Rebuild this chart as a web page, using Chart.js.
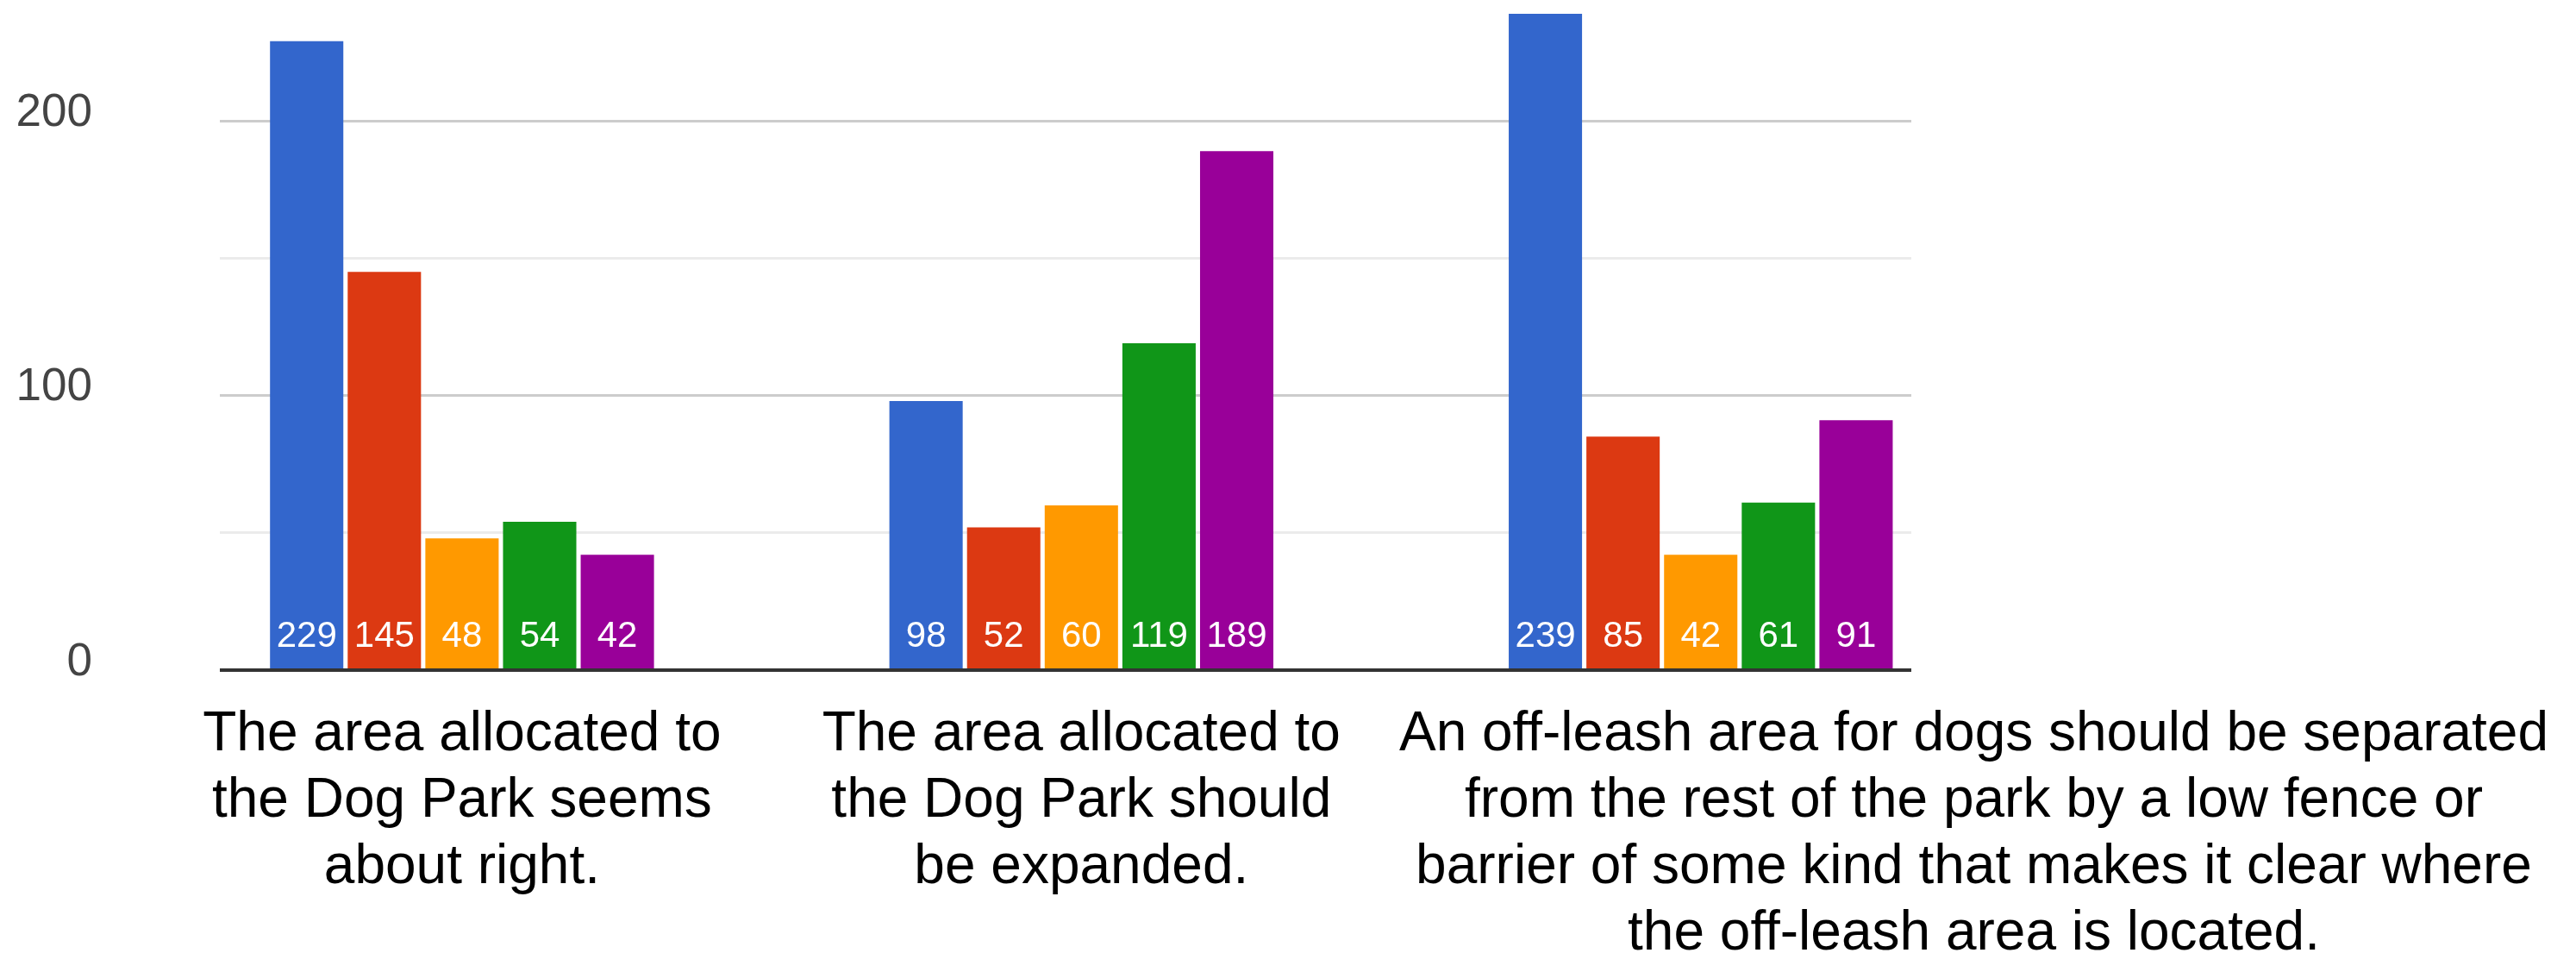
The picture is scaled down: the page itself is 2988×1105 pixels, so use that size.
<!DOCTYPE html>
<html>
<head>
<meta charset="utf-8">
<title>Dog Park survey</title>
<script src="https://cdn.jsdelivr.net/npm/chart.js@4.4.1/dist/chart.umd.min.js"></script>
<style>
    html, body { margin: 0; padding: 0; background: #ffffff; }
    #chart-wrap { position: relative; width: 2988px; height: 1105px; }
</style>
</head>
<body>
<div id="chart-wrap"><canvas id="survey-chart"></canvas></div>
<script>
// Statements (one group of bars each), already split into lines
const statements = [
    ['The area allocated to', 'the Dog Park seems', 'about right.'],
    ['The area allocated to', 'the Dog Park should', 'be expanded.'],
    ['An off-leash area for dogs should be separated',
     'from the rest of the park by a low fence or',
     'barrier of some kind that makes it clear where',
     'the off-leash area is located.']
];

// Answer counts per statement, one array per answer
const blueValues = [229, 98, 239];
const redValues = [145, 52, 85];
const orangeValues = [48, 60, 42];
const greenValues = [54, 119, 61];
const purpleValues = [42, 189, 91];

const seriesValues = [blueValues, redValues, orangeValues, greenValues, purpleValues];
const seriesColors = ['#3366cc', '#dc3912', '#ff9900', '#109618', '#990099'];

// Y axis ticks (minor lines at 50 and 150 carry no label)
const yTicks = [0, 50, 100, 150, 200];
const yTickLabels = ['0', '', '100', '', '200'];
const yMax = 244;

const FONT = "'Liberation Sans', Arial, sans-serif";
const LABEL_GAP = 68;

Chart.defaults.font.family = FONT;

// Plugin: baseline, values inside the bars and statement labels under the groups
const surveyLabels = {
    id: 'surveyLabels',
    afterDatasetsDraw(chart) {
        const ctx = chart.ctx;
        const area = chart.chartArea;
        const xScale = chart.scales.x;
        const zeroY = chart.scales.y.getPixelForValue(0);

        ctx.save();

        // Dark baseline drawn over the bar bottoms
        ctx.strokeStyle = '#333333';
        ctx.lineWidth = 4;
        ctx.beginPath();
        ctx.moveTo(area.left, zeroY);
        ctx.lineTo(area.right, zeroY);
        ctx.stroke();

        // Counts near the bottom of each bar
        ctx.font = `42px ${FONT}`;
        ctx.fillStyle = '#ffffff';
        ctx.textAlign = 'center';
        ctx.textBaseline = 'alphabetic';
        chart.data.datasets.forEach((dataset, di) => {
            chart.getDatasetMeta(di).data.forEach((bar, i) => {
                ctx.fillText(String(dataset.data[i].y), bar.x, zeroY - 27);
            });
        });

        // Statement labels, pushed right when they would overlap the previous one
        ctx.font = `64px ${FONT}`;
        ctx.fillStyle = '#000000';
        let prevRight = -Infinity;
        statements.forEach((lines, i) => {
            const width = Math.max(...lines.map(line => ctx.measureText(line).width));
            let center = xScale.getPixelForValue(i);
            if (center - width / 2 < prevRight + LABEL_GAP) {
                center = prevRight + LABEL_GAP + width / 2;
            }
            lines.forEach((line, li) => {
                ctx.fillText(line, center, zeroY + 93 + li * 77);
            });
            prevRight = center + width / 2;
        });

        ctx.restore();
    }
};

// Function to create the grouped bar chart
function createSurveyChart() {
    const canvas = document.getElementById('survey-chart');

    const datasets = seriesValues.map((values, s) => ({
        label: 'Series ' + (s + 1),
        data: values.map((v, i) => ({ x: i, y: v })),
        backgroundColor: seriesColors[s],
        borderWidth: 0,
        categoryPercentage: 0.627,
        barPercentage: 0.944
    }));

    new Chart(canvas, {
        type: 'bar',
        data: { datasets: datasets },
        plugins: [surveyLabels],
        options: {
            responsive: true,
            maintainAspectRatio: false,
            devicePixelRatio: 1,
            animation: false,
            layout: {
                padding: { left: 0, right: 771, top: 0, bottom: 328 }
            },
            plugins: {
                legend: { display: false },
                tooltip: { enabled: false }
            },
            scales: {
                x: {
                    type: 'linear',
                    min: -0.391,
                    max: 2.34,
                    offset: false,
                    afterBuildTicks: axis => {
                        axis.ticks = statements.map((s, i) => ({ value: i }));
                    },
                    afterFit: axis => {
                        axis.height = 0;
                        axis.paddingLeft = 0;
                        axis.paddingRight = 0;
                    },
                    ticks: { display: false },
                    grid: { display: false, offset: false },
                    border: { display: false }
                },
                y: {
                    min: 0,
                    max: yMax,
                    afterBuildTicks: axis => {
                        axis.ticks = yTicks.map(v => ({ value: v }));
                    },
                    afterFit: axis => {
                        axis.width = 255;
                        axis.paddingTop = 0;
                        axis.paddingBottom = 0;
                    },
                    ticks: {
                        callback: (value, index) => yTickLabels[index],
                        color: '#444444',
                        font: { size: 53 },
                        padding: 148,
                        labelOffset: -9
                    },
                    grid: {
                        drawTicks: false,
                        tickLength: 0,
                        color: ctx => {
                            const v = ctx.tick ? ctx.tick.value : 0;
                            if (v === 0) return 'rgba(0,0,0,0)';
                            return v % 100 === 0 ? '#cccccc' : '#ebebeb';
                        },
                        lineWidth: 3
                    },
                    border: { display: false }
                }
            }
        }
    });
}

createSurveyChart();
</script>
</body>
</html>
